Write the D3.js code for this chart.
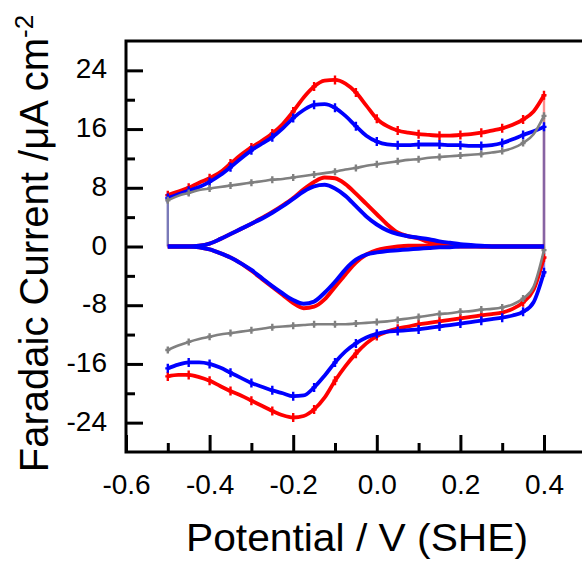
<!DOCTYPE html>
<html>
<head>
<meta charset="utf-8">
<script src="https://cdn.jsdelivr.net/npm/d3@7"></script>
<style>
body { margin: 0; background: #fff; }
svg { display: block; font-family: "Liberation Sans", Arial, sans-serif; }
</style>
</head>
<body>
<script>
// potential grid (V vs SHE)
const potential = [-0.5, -0.475, -0.45, -0.425, -0.4, -0.375, -0.35, -0.325, -0.3, -0.275,
  -0.25, -0.225, -0.2, -0.175, -0.15, -0.125, -0.1, -0.075, -0.05, -0.025,
  0, 0.025, 0.05, 0.075, 0.1, 0.125, 0.15, 0.175, 0.2, 0.225,
  0.25, 0.275, 0.3, 0.325, 0.35, 0.375, 0.4];

// total current, anodic sweep (forward) and cathodic sweep (reverse)
const redFwd = [7.0, 7.5, 8.0, 8.7, 9.3, 10.1, 11.3, 12.5, 13.5, 14.4, 15.4, 16.7, 18.4, 20.3, 21.8, 22.6, 22.7, 22.2, 21.0, 19.2,
  17.4, 16.4, 15.8, 15.5, 15.3, 15.2, 15.1, 15.1, 15.2, 15.3, 15.5, 15.8, 16.1, 16.6, 17.3, 18.4, 20.6];
const redRev = [-17.7, -17.5, -17.5, -17.8, -18.3, -19.0, -19.7, -20.3, -21.0, -21.7, -22.4, -23.0, -23.3, -23.1, -22.2, -20.6, -18.3, -16.3, -14.6, -13.2,
  -12.2, -11.6, -11.2, -10.9, -10.6, -10.4, -10.2, -10.0, -9.8, -9.6, -9.4, -9.2, -9.0, -8.5, -7.6, -5.9, -1.5];
const blueFwd = [6.6, 7.1, 7.6, 8.1, 8.8, 9.7, 10.8, 12.0, 13.1, 14.0, 14.9, 16.1, 17.5, 18.6, 19.3, 19.4, 18.9, 17.8, 16.4, 15.1,
  14.3, 13.9, 13.8, 13.8, 13.9, 13.9, 13.9, 13.8, 13.8, 13.7, 13.7, 13.8, 14.1, 14.6, 15.2, 15.7, 16.3];
const blueRev = [-16.6, -16.1, -15.8, -15.8, -16.0, -16.5, -17.2, -17.9, -18.6, -19.1, -19.6, -20.0, -20.4, -20.3, -19.2, -17.6, -15.8, -14.3, -13.2, -12.4,
  -11.9, -11.6, -11.5, -11.4, -11.3, -11.1, -10.9, -10.7, -10.5, -10.3, -10.1, -9.9, -9.7, -9.4, -8.9, -7.6, -3.5];
const bgFwd = [6.3, 6.9, 7.3, 7.7, 7.9, 8.1, 8.3, 8.5, 8.7, 8.9, 9.1, 9.2, 9.4, 9.6, 9.8, 10.0, 10.2, 10.5, 10.7, 11.0,
  11.2, 11.4, 11.6, 11.8, 11.9, 12.1, 12.2, 12.3, 12.4, 12.5, 12.6, 12.8, 13.0, 13.4, 14.1, 15.3, 17.8];
const bgRev = [-14.1, -13.5, -13.0, -12.6, -12.3, -12.0, -11.8, -11.6, -11.4, -11.2, -11.0, -10.9, -10.8, -10.7, -10.6, -10.6, -10.6, -10.6, -10.5, -10.4,
  -10.3, -10.2, -10.0, -9.8, -9.6, -9.4, -9.2, -9.1, -8.9, -8.8, -8.6, -8.5, -8.3, -7.9, -7.1, -5.5, -0.5];

// background-subtracted (faradaic) current
const faraRedFwd = [0, 0, 0, 0.1, 0.4, 1.0, 1.7, 2.4, 3.1, 3.9, 4.7, 5.6, 6.6, 7.8, 8.8, 9.4, 9.3, 8.5, 7.2, 5.8,
  4.4, 3.0, 1.9, 1.4, 1.1, 0.6, 0.3, 0.1, 0, 0, 0, 0, 0, 0, 0, 0, 0];
const faraRedRev = [0, 0, 0, -0.1, -0.4, -0.9, -1.5, -2.3, -3.3, -4.4, -5.5, -6.6, -7.7, -8.4, -8.2, -7.2, -5.5, -3.8, -2.2, -1.1,
  -0.5, -0.2, 0, 0.1, 0.1, 0.1, 0.1, 0.1, 0.1, 0.1, 0, 0, 0, 0, 0, 0, 0];
const faraBlueFwd = [0, 0, 0, 0.1, 0.4, 1.0, 1.7, 2.4, 3.1, 3.8, 4.6, 5.5, 6.5, 7.5, 8.2, 8.4, 7.9, 6.9, 5.5, 4.1,
  3.0, 2.2, 1.7, 1.4, 1.2, 1.0, 0.7, 0.5, 0.3, 0.2, 0.1, 0, 0, 0, 0, 0, 0];
const faraBlueRev = [0, 0, 0, -0.1, -0.4, -0.9, -1.5, -2.3, -3.2, -4.3, -5.4, -6.4, -7.3, -7.8, -7.5, -6.3, -4.8, -3.1, -1.8, -1.1,
  -0.8, -0.6, -0.5, -0.4, -0.3, -0.2, -0.1, -0.1, 0, 0, 0, 0, 0, 0, 0, 0, 0];

const xMajor = [-0.6, -0.4, -0.2, 0, 0.2, 0.4];
const xMinor = [-0.5, -0.3, -0.1, 0.1, 0.3];
const yMajor = [-24, -16, -8, 0, 8, 16, 24];
const yMinor = [-20, -12, -4, 4, 12, 20];

const W = 582, H = 562;
const plotLeft = 126, plotTop = 41, plotBottom = 452;

const svg = d3.select("body").append("svg").attr("width", W).attr("height", H);

const x = d3.scaleLinear().domain([-0.6, 0.5]).range([plotLeft, plotLeft + 1.1 * 418]);
const y = d3.scaleLinear().domain([-28, 28]).range([plotBottom, plotTop]);

// axes
const yAx = svg.append("g").attr("transform", "translate(" + plotLeft + ",0)")
  .call(d3.axisLeft(y).tickValues(yMajor).tickSize(-17).tickPadding(19).tickFormat(d => String(d)));
svg.append("g").attr("transform", "translate(" + plotLeft + ",0)")
  .call(d3.axisLeft(y).tickValues(yMinor).tickSize(-9).tickFormat(""));
const xAx = svg.append("g").attr("transform", "translate(0," + plotBottom + ")")
  .call(d3.axisBottom(x).tickValues(xMajor).tickSize(-17).tickPadding(22).tickFormat(d => d.toFixed(1)));
svg.append("g").attr("transform", "translate(0," + plotBottom + ")")
  .call(d3.axisBottom(x).tickValues(xMinor).tickSize(-9).tickFormat(""));

svg.selectAll(".domain").remove();
svg.selectAll(".tick line").attr("stroke", "#000").attr("stroke-width", 3);
svg.selectAll(".tick text").attr("font-size", 28).attr("fill", "#000")
  .attr("font-family", "'Liberation Sans', Arial, sans-serif");
yAx.selectAll(".tick text").attr("dy", "0.27em");

// frame (right side falls outside the picture)
svg.append("path")
  .attr("d", "M" + (W + 10) + "," + y(28) + "H" + x(-0.6) + "V" + y(-28) + "H" + (W + 10))
  .attr("fill", "none").attr("stroke", "#000").attr("stroke-width", 3).attr("stroke-linecap", "square");

const line = d3.line().x(d => x(d[0])).y(d => y(d[1])).curve(d3.curveMonotoneX);
const pts = arr => potential.map((p, i) => [p, arr[i]]);

// vertical switching segments
const switches = [
  {color: "#ff0000", a: redFwd, b: redRev},
  {color: "#0000ff", a: blueFwd, b: blueRev},
  {color: "#808080", a: bgFwd, b: bgRev}
];
switches.forEach(s => {
  const n = potential.length - 1;
  svg.append("line")
    .attr("x1", x(potential[n])).attr("x2", x(potential[n]))
    .attr("y1", y(s.a[n])).attr("y2", y(s.b[n]))
    .attr("stroke", s.color).attr("stroke-opacity", 0.45).attr("stroke-width", 2.4);
});
svg.append("line")
  .attr("x1", x(potential[0])).attr("x2", x(potential[0]))
  .attr("y1", y(faraBlueFwd[0])).attr("y2", y(bgFwd[0]))
  .attr("stroke", "#7a7ab8").attr("stroke-width", 2.4);

// total CVs with markers
const totals = [
  {color: "#ff0000", w: 3.8, m: 4.5, series: [redFwd, redRev]},
  {color: "#0000ff", w: 3.8, m: 4.5, series: [blueFwd, blueRev]},
  {color: "#808080", w: 2.6, m: 3.5, series: [bgFwd, bgRev]}
];
totals.forEach(t => {
  t.series.forEach(s => {
    const p = pts(s);
    svg.append("path").attr("d", line(p))
      .attr("fill", "none").attr("stroke", t.color).attr("stroke-width", t.w)
      .attr("stroke-linejoin", "round");
    svg.append("g").selectAll("path")
      .data(p.filter((d, i) => i % 2 === 0))
      .join("path")
      .attr("transform", d => "translate(" + x(d[0]) + "," + y(d[1]) + ")")
      .attr("d", "M0," + (-t.m) + "V" + t.m + "M-2.5,0H2.5")
      .attr("stroke", t.color).attr("stroke-width", 2.4);
  });
});

// faradaic loops
[["#ff0000", faraRedFwd, faraRedRev], ["#0000ff", faraBlueFwd, faraBlueRev]].forEach(f => {
  [f[1], f[2]].forEach(s => {
    svg.append("path").attr("d", line(pts(s)))
      .attr("fill", "none").attr("stroke", f[0]).attr("stroke-width", 4)
      .attr("stroke-linejoin", "round");
  });
});

// titles
const yt = svg.append("text")
  .attr("transform", "translate(48,243.5) rotate(-90)")
  .attr("text-anchor", "middle").attr("font-size", 40).attr("fill", "#000");
yt.append("tspan").text("Faradaic Current /\u03bcA cm");
yt.append("tspan").attr("font-size", 26).attr("dy", -15).text("-2");

svg.append("text")
  .attr("x", 357).attr("y", 551)
  .attr("text-anchor", "middle").attr("font-size", 38).attr("fill", "#000")
  .attr("textLength", 342).attr("lengthAdjust", "spacingAndGlyphs")
  .text("Potential / V (SHE)");
</script>
</body>
</html>
